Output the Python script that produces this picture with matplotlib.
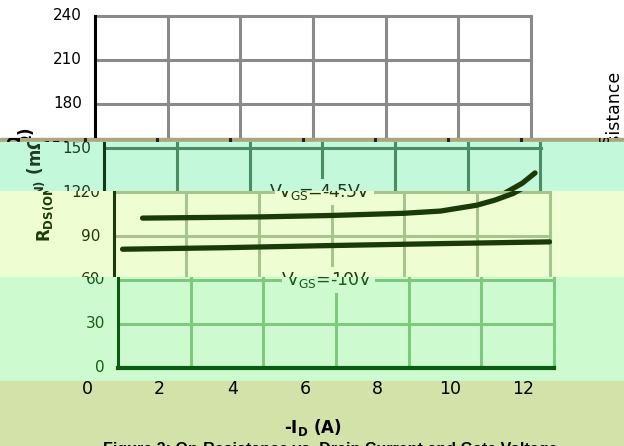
import matplotlib
matplotlib.use('Agg')
import matplotlib.pyplot as plt
from matplotlib.patches import Rectangle
from matplotlib.transforms import offset_copy

W, H = 624, 446

# data
id_45 = [0.8, 2, 4, 6, 8, 9, 10, 10.5, 11, 11.5, 11.85]
r_45 = [102.2, 102.5, 103, 104, 105.5, 107, 111, 114.5, 119, 126, 133]
id_10 = [0.25, 3, 6, 9, 12]
r_10 = [81, 82, 83.5, 84.8, 86]
y_ticks = [0, 30, 60, 90, 120, 150, 180, 210, 240]
x_ticks = [0, 2, 4, 6, 8, 10, 12]

# horizontal bands of the (shifted / recoloured) picture:
# top px, bottom px, left spine px, background, grid, frame, text, curve
bands = [
    (0, 138, 95, 'white', '#8a8a8a', 'black', 'black', 'black'),
    (138, 142, 84.5, '#a9a77f', '#222222', '#222222', 'black', 'black'),
    (142, 191, 104.5, '#c3f8da', '#4b8c64', '#0f3a17', '#1e3a24', '#1a3a0a'),
    (191, 277, 113.5, '#effdd3', '#a7c48d', '#1c3a0a', '#1c3a0a', '#1a3a0a'),
    (277, 381, 118, '#cdfbcf', '#7ec97e', '#0b5a12', '#1a5a1a', '#1a3a0a'),
    (381, 446, 87, '#d2e2a8', '#d2e2a8', '#d2e2a8', 'black', 'black'),
]

fig = plt.figure(figsize=(W / 100, H / 100), dpi=100)

plot_top, plot_bottom, plot_w = 16, 368, 436

for top, bot, sx, bg, grid, frame, tc, cc in bands:
    fig.add_artist(Rectangle((0, 1 - bot / H), 1, (bot - top) / H,
                             transform=fig.transFigure, color=bg, zorder=-5))
    clip = Rectangle((0, 1 - bot / H), 1, (bot - top) / H, transform=fig.transFigure)

    ax = fig.add_axes([sx / W, 1 - plot_bottom / H, plot_w / W, (plot_bottom - plot_top) / H])
    ax.set_xlim(0, 12)
    ax.set_ylim(0, 240)
    ax.axis('off')

    for v in y_ticks[1:]:
        ax.axhline(v, color=grid, lw=2.2)
    for v in x_ticks[1:]:
        ax.axvline(v, color=grid, lw=2.2)
    ax.axvline(0, color=frame, lw=2.2)
    ax.axhline(0, color=frame, lw=3)

    ax.plot(id_45, r_45, color=cc, lw=3.8, solid_capstyle='round')
    ax.plot(id_10, r_10, color=cc, lw=3.8, solid_capstyle='round')

    ax.text(5.8, 120, r'$\mathregular{V_{GS}}$=-4.5V', fontsize=12.5, color=tc,
            ha='center', va='center',
            bbox=dict(boxstyle='square,pad=0.2', fc=bg, ec='none'))
    ax.text(5.8, 60, r'$\mathregular{V_{GS}}$=-10V', fontsize=12.5, color=tc,
            ha='center', va='center',
            bbox=dict(boxstyle='square,pad=0.2', fc=bg, ec='none'))

    tr_y = offset_copy(ax.transData, fig=fig, x=-13, y=0, units='dots')
    for v in y_ticks:
        ax.text(0, v, str(v), transform=tr_y, ha='right', va='center',
                fontsize=11, color=tc)
    tr_x = offset_copy(ax.transData, fig=fig, x=0, y=-12, units='dots')
    for v in x_ticks:
        ax.text(v, 0, str(v), transform=tr_x, ha='center', va='top',
                fontsize=12.5, color=tc)

    tr_lab = offset_copy(ax.transData, fig=fig, x=-68, y=0, units='dots')
    ax.text(0, 125, r'$\mathbf{R_{DS(ON)}}$ (m$\mathbf{\Omega}$)', transform=tr_lab,
            rotation=90, ha='center', va='center', fontsize=12,
            fontweight='bold', color=tc)

    tr_xl = offset_copy(ax.transData, fig=fig, x=0, y=-60, units='dots')
    ax.text(6.22, 0, r'-$\mathbf{I_D}$ (A)', transform=tr_xl, ha='center',
            va='center', fontsize=12, fontweight='bold', color=tc)
    tr_cap = offset_copy(ax.transData, fig=fig, x=0, y=-74, units='dots')
    ax.text(0.44, 0, 'Figure 3: On-Resistance vs. Drain Current and Gate Voltage',
            transform=tr_cap, ha='left', va='top', fontsize=11.5,
            family='Liberation Sans', fontweight='bold', color=tc)

    if sx < 100:
        tr_r = offset_copy(ax.transData, fig=fig, x=520, y=0, units='dots')
        ax.text(0, 201.8, 'Normalized On-Resistance', transform=tr_r, rotation=90,
                ha='center', va='top', fontsize=12.5, color='black')

    for a in ax.lines + ax.texts:
        a.set_clip_on(True)
        a.set_clip_path(clip)

fig.savefig('out.png', dpi=100)
